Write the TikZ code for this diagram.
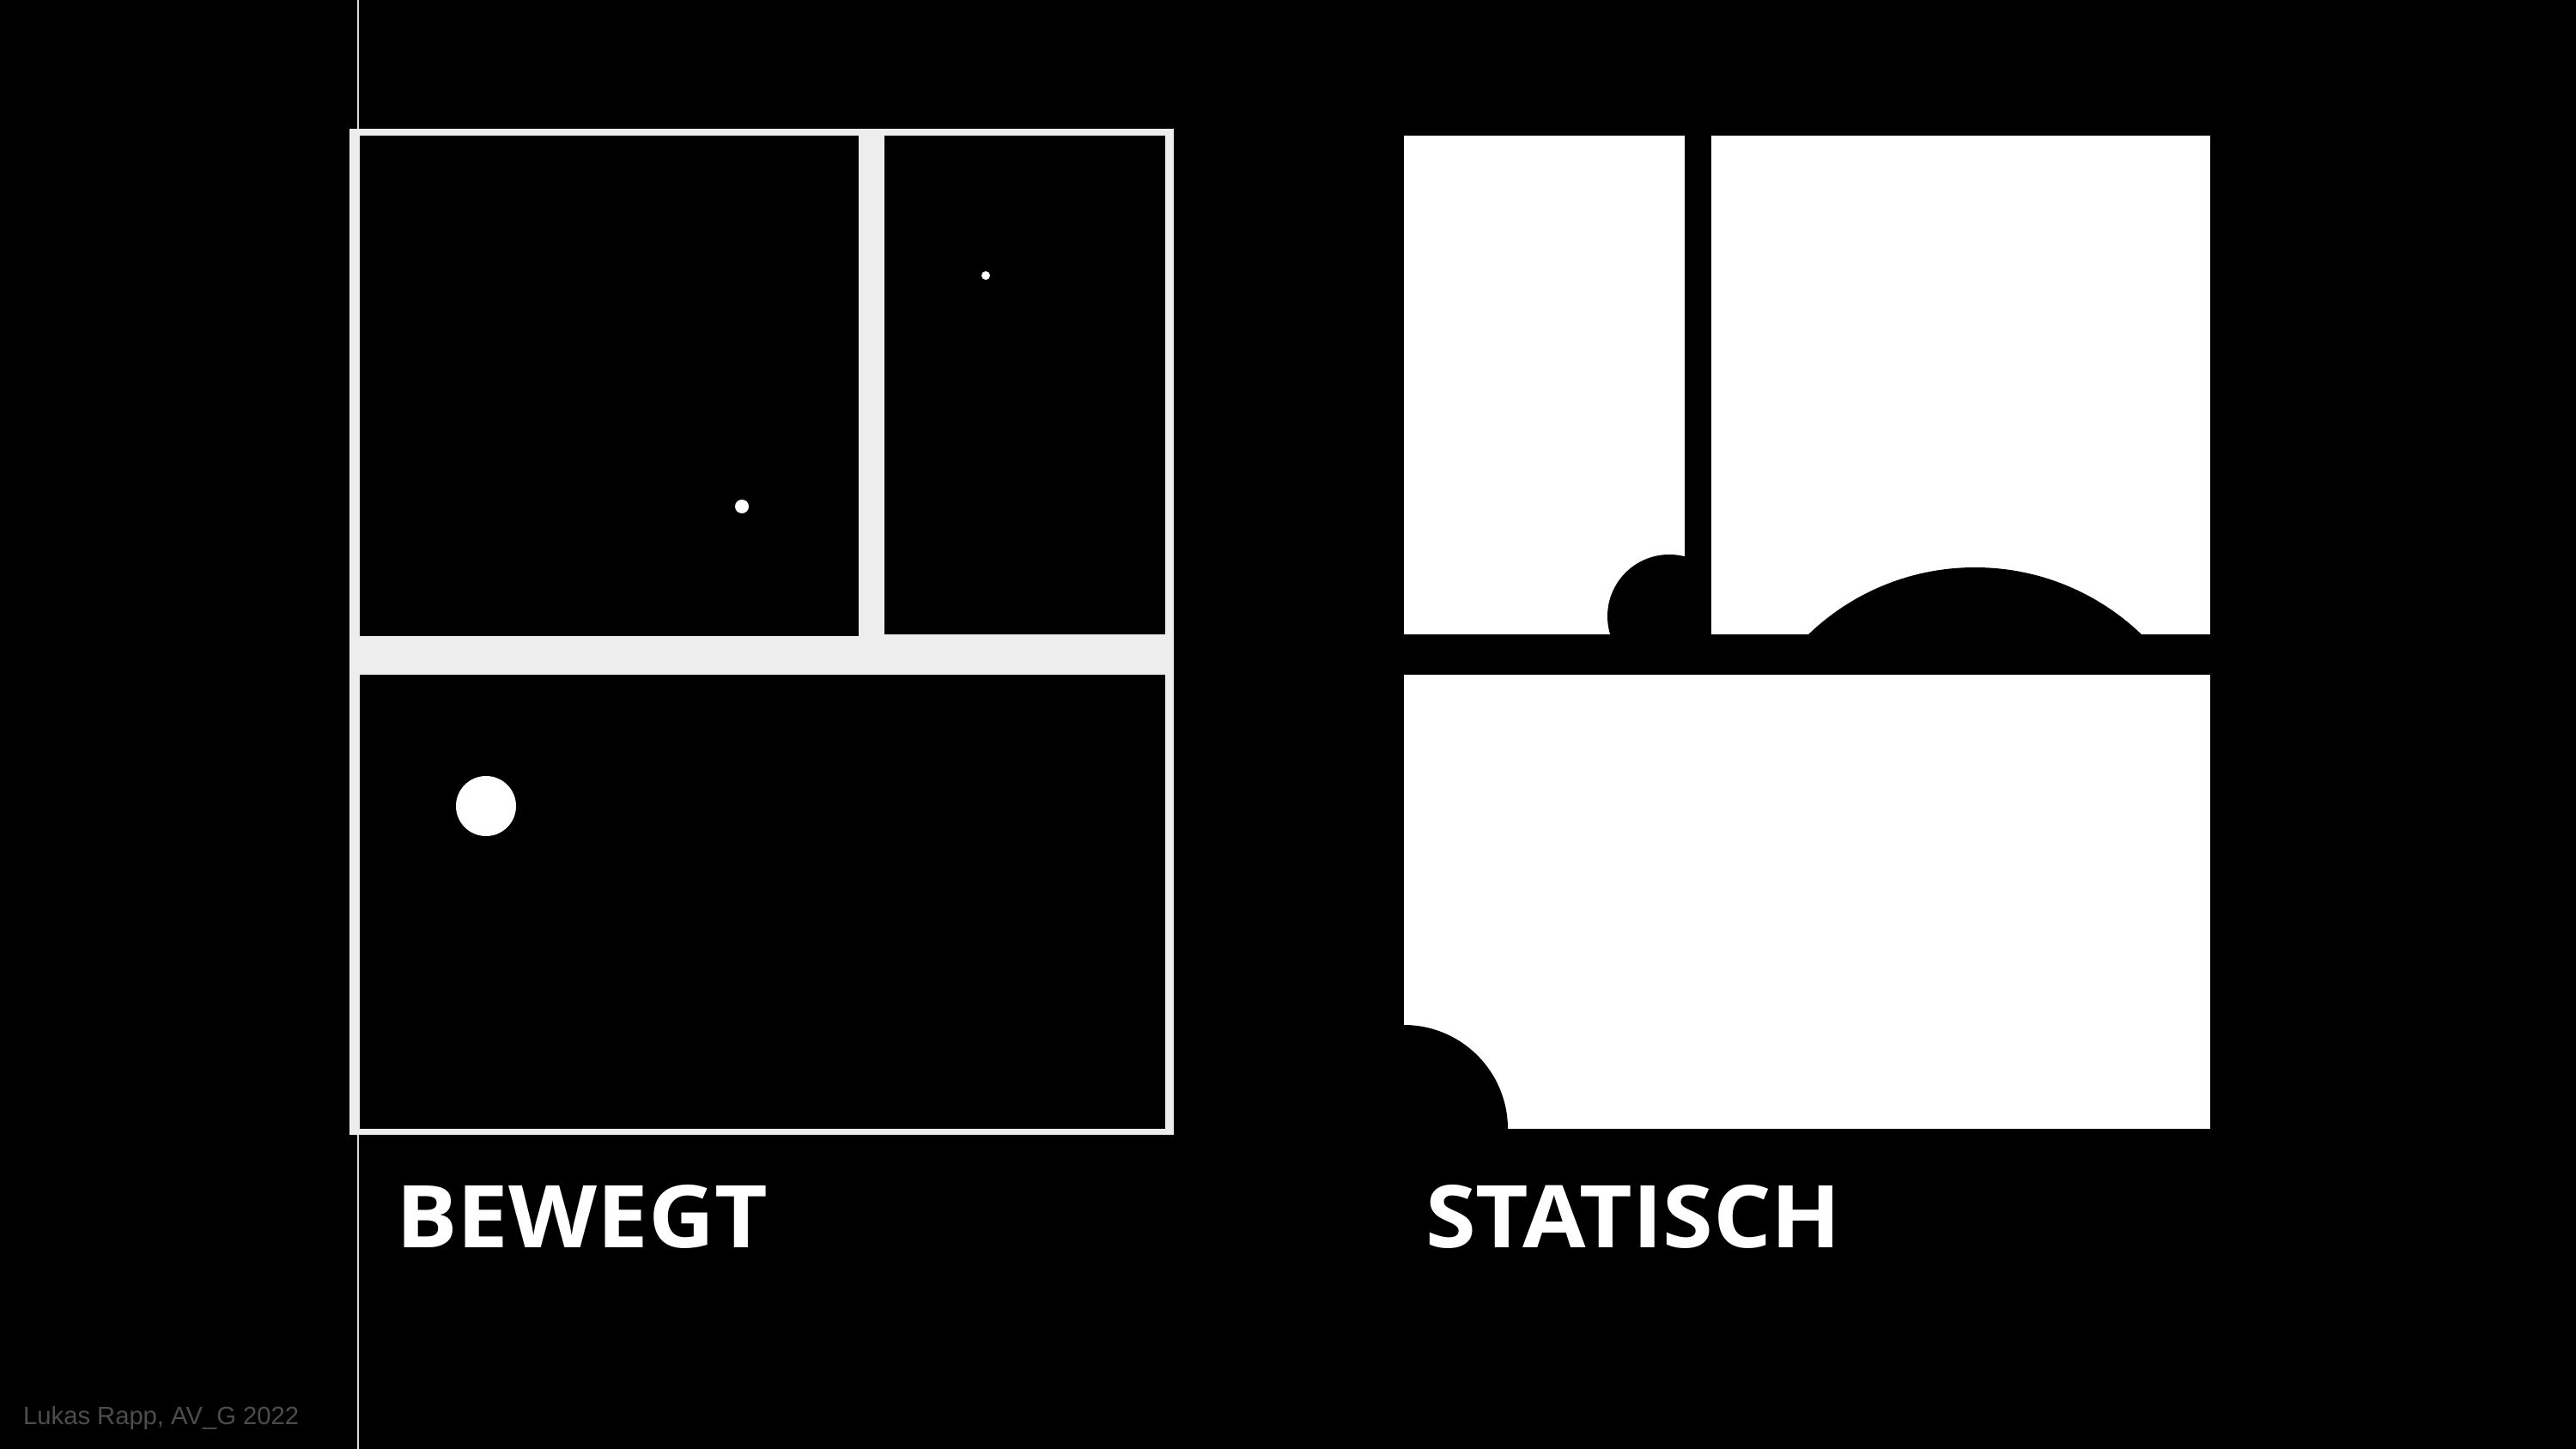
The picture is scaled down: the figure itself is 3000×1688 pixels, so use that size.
\documentclass[tikz,border=0pt]{standalone}
\usepackage{fontspec}
\newfontfamily\headfont{Open Sans}
\newfontfamily\footfont{Liberation Sans}
\definecolor{framegray}{HTML}{EDEDED}
\definecolor{footgray}{HTML}{4D4D4D}
\definecolor{linegray}{HTML}{DADADA}
\newcommand{\widen}[1]{\scalebox{1.055}[1]{#1}}
\tikzset{
  headtext/.style={anchor=base west, inner sep=0pt, text=white, font=\headfont\bfseries\fontsize{101pt}{104pt}\selectfont},
  foottext/.style={anchor=base west, inner sep=0pt, text=footgray, font=\footfont\fontsize{29.2pt}{31pt}\selectfont},
}
\begin{document}
\begin{tikzpicture}[x=1pt,y=-1pt]
\fill[black] (0,0) rectangle (3000,1688);
\useasboundingbox (0,0) rectangle (3000,1688);
% vertical guide line
\draw[linegray, line width=2.5pt] (417,0) -- (417,1688);
% left: moving
\fill[framegray] (407,150) rectangle (1367,1322);
\fill[black] (419,158) rectangle (1000,741);
\fill[black] (1030,158) rectangle (1357,739);
\fill[black] (419,786) rectangle (1357,1315);
\fill[white] (864,590) circle (8);
\fill[white] (1148,321) circle (5);
\fill[white] (566,939) circle (35);
% right: static
\fill[white] (1635,158) rectangle (1962,739);
\begin{scope}
  \clip (1635,158) rectangle (1962,739);
  \fill[black] (1944,718) circle (72);
\end{scope}
\fill[white] (1993,158) rectangle (2574,739);
\begin{scope}
  \clip (1993,158) rectangle (2574,739);
  \fill[black] (2300,941) circle (280);
\end{scope}
\fill[white] (1635,786) rectangle (2574,1315);
\begin{scope}
  \clip (1635,786) rectangle (2574,1315);
  \fill[black] (1635,1315) circle (121);
\end{scope}
% labels
\node[headtext] (bewegt) at (461,1453) {\widen{BEWEGT}};
\node[headtext] (statisch) at (1660,1453) {\widen{STATISCH}};
\node[foottext] (credit) at (27,1659) {Lukas Rapp, AV\_G 2022};
\end{tikzpicture}
\end{document}
